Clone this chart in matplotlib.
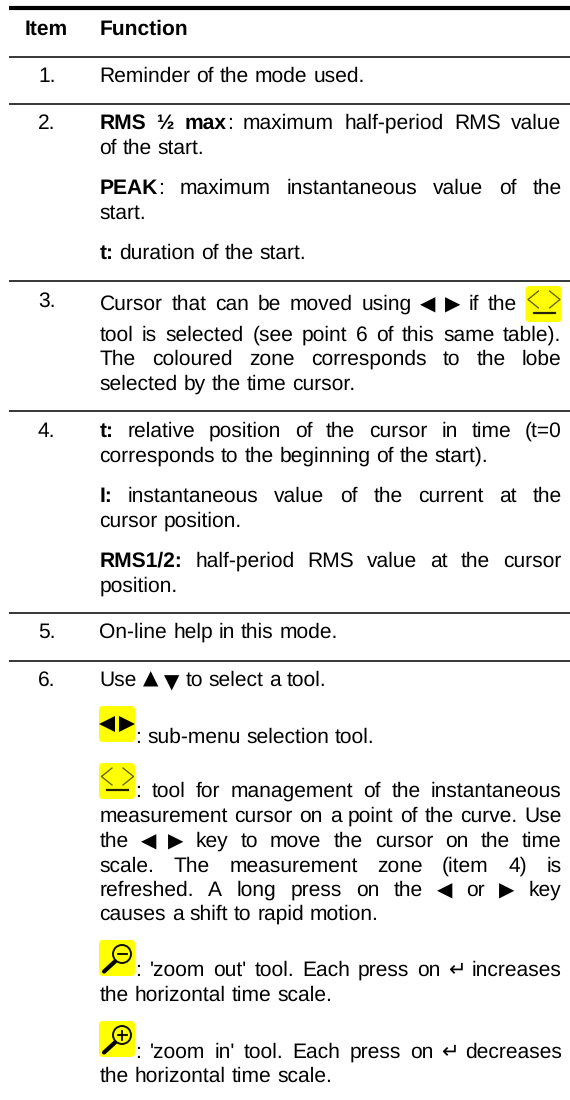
import matplotlib
matplotlib.use("Agg")
import matplotlib.pyplot as plt
from matplotlib.patches import FancyBboxPatch, Circle

plt.rcParams["font.family"] = ["Liberation Sans", "DejaVu Sans"]
plt.rcParams["text.hinting"] = "no_hinting"
plt.rcParams["text.hinting_factor"] = 1

# -------------------------------------------------------
# Table text
# -------------------------------------------------------
header = ["Item", "Function"]
items = ["1.", "2.", "3.", "4.", "5.", "6."]

# **x** = bold, last flag = justified to the full column
row_text = [
    ("Reminder of the mode used.", False),
    ("**RMS ½ max**: maximum half-period RMS value", True),
    ("of the start.", False),
    ("**PEAK**: maximum instantaneous value of the", True),
    ("start.", False),
    ("**t:** duration of the start.", False),
    ("tool is selected (see point 6 of this same table).", True),
    ("The coloured zone corresponds to the lobe", True),
    ("selected by the time cursor.", False),
    ("**t:** relative position of the cursor in time (t=0", True),
    ("corresponds to the beginning of the start).", False),
    ("**I:** instantaneous value of the current at the", True),
    ("cursor position.", False),
    ("**RMS1/2:** half-period RMS value at the cursor", True),
    ("position.", False),
    ("On-line help in this mode.", False),
    ("Use ▲ ▼ to select a tool.", False),
    ("measurement cursor on a point of the curve. Use", True),
    ("the ◀ ▶ key to move the cursor on the time", True),
    ("scale. The measurement zone (item 4) is", True),
    ("refreshed. A long press on the ◀ or ▶ key", True),
    ("causes a shift to rapid motion.", False),
    ("the horizontal time scale.", False),
    ("the horizontal time scale.", False),
]
cursor_line = "Cursor that can be moved using ◀ ▶ if the"
icon_lines = [
    (": sub-menu selection tool.", False),
    (": tool for management of the instantaneous", True),
    (": 'zoom out' tool. Each press on ↵ increases", True),
    (": 'zoom in' tool. Each press on ↵ decreases", True),
]

# -------------------------------------------------------
# Layout, pixels from the top left
# -------------------------------------------------------
FONT = 15.2
SYMBOLS = "▲▼◀▶"
LEFT, RIGHT = 99.5, 561.5
ITEM_X = 38
rule_y = [57, 104, 281, 411, 613, 661]
item_y = [82, 129, 307, 437, 638, 686]
row_y = [82, 129, 154, 194, 219, 259, 341, 365, 390, 437, 462, 502, 527,
         567, 592, 638, 686, 822, 847, 872, 896, 920, 1001, 1082]
icon_line_y = [743, 797, 976, 1058]
icon_top = [706, 763, 940, 1021]

fig = plt.figure(figsize=(5.7, 11), dpi=100)
ax = fig.add_axes([0, 0, 1, 1])
ax.set_xlim(0, 570)
ax.set_ylim(1100, 0)
ax.axis("off")
renderer = fig.canvas.get_renderer()


def piece_style(s, weight):
    if s in SYMBOLS:
        return {"fontsize": 14.3, "family": "DejaVu Sans"}
    return {"fontsize": FONT, "weight": weight}


def text_width(s, weight):
    t = ax.text(0, 0, s, **piece_style(s, weight))
    w = t.get_window_extent(renderer).width
    t.remove()
    # the return arrow nearly touches the next word
    return w + 5 if s == "↵" else w


def parse_words(line):
    # each word is a list of (string, weight) pieces
    words = [[]]
    for i, part in enumerate(line.split("**")):
        weight = "bold" if i % 2 else "normal"
        for j, chunk in enumerate(part.split(" ")):
            if j > 0 and not (words[-1] and words[-1][-1][0] == "↵"):
                words.append([])
            if chunk:
                words[-1].append((chunk, weight))
    return [w for w in words if w]


def draw_line(line, y, x0=LEFT, x1=RIGHT, justify=False):
    words = parse_words(line)
    widths = [sum(text_width(s, wt) for s, wt in w) for w in words]
    gap = FONT * 100 / 72 * 0.278
    if justify and len(words) > 1:
        gap = (x1 - x0 - sum(widths)) / (len(words) - 1)
    x = x0
    for w, width in zip(words, widths):
        xp = x
        for s, wt in w:
            # the up triangle sits a little higher than the down one
            dy = {"▲": -1.5, "▼": 2.5, "◀": 0.5, "▶": 0.5}.get(s, 0)
            ax.text(xp, y + dy, s, color="black", va="baseline", **piece_style(s, wt))
            xp += text_width(s, wt)
        x += width + gap


def icon_box(x, y, w=36, h=36):
    ax.add_patch(FancyBboxPatch((x + 3, y + 3), w - 6, h - 6,
                                boxstyle="round,pad=3,rounding_size=4",
                                fc="#ffff00", ec="none", zorder=2))


def icon_cursor(x, y):
    icon_box(x, y)
    ax.plot([x + 13, x + 2.5, x + 13], [y + 5, y + 13.5, y + 22], color="#5a5a00", lw=0.9, zorder=3)
    ax.plot([x + 24, x + 34.5, x + 24], [y + 5, y + 13.5, y + 22], color="#5a5a00", lw=0.9, zorder=3)
    ax.plot([x + 8, x + 29], [y + 27, y + 27], color="#222200", lw=1.6, zorder=3)


def icon_arrows(x, y):
    icon_box(x, y)
    ax.plot([x + 8], [y + 18], marker="<", ms=11, mew=0, color="black", zorder=3)
    ax.plot([x + 28], [y + 18], marker=">", ms=11, mew=0, color="black", zorder=3)


def icon_zoom(x, y, plus):
    icon_box(x, y)
    cx, cy = x + 23, y + 14
    ax.add_patch(Circle((cx, cy), 9, fc="none", ec="#111100", lw=1.4, zorder=3))
    ax.plot([cx - 4.5, cx + 4.5], [cy, cy], color="black", lw=1.3, zorder=3)
    if plus:
        ax.plot([cx, cx], [cy - 4.5, cy + 4.5], color="black", lw=1.3, zorder=3)
    ax.plot([x + 16, x + 5], [y + 21.5, y + 31.5], color="black", lw=3, solid_capstyle="round", zorder=3)


# -------------------------------------------------------
# Rules
# -------------------------------------------------------
ax.plot([9, 570], [7.5, 7.5], color="black", lw=3, solid_capstyle="butt")
for y in rule_y:
    ax.plot([9, 570], [y, y], color="black", lw=1.1, solid_capstyle="butt")

# -------------------------------------------------------
# Header, items, text
# -------------------------------------------------------
ax.text(46.5, 35, header[0], fontsize=FONT, weight="bold", ha="center", color="black")
ax.text(LEFT, 35, header[1], fontsize=FONT, weight="bold", color="black")
for s, y in zip(items, item_y):
    ax.text(ITEM_X, y, s, fontsize=FONT, color="black")

for (line, justify), y in zip(row_text, row_y):
    draw_line(line, y, justify=justify)

draw_line(cursor_line, 310, x1=517, justify=True)
icon_cursor(525.5, 286)

icon_arrows(99, icon_top[0])
icon_cursor(99, icon_top[1])
icon_zoom(99, icon_top[2], False)
icon_zoom(99, icon_top[3], True)
for (line, justify), y in zip(icon_lines, icon_line_y):
    draw_line(line, y, x0=135.5, justify=justify)

fig.savefig("out.png", dpi=100)
